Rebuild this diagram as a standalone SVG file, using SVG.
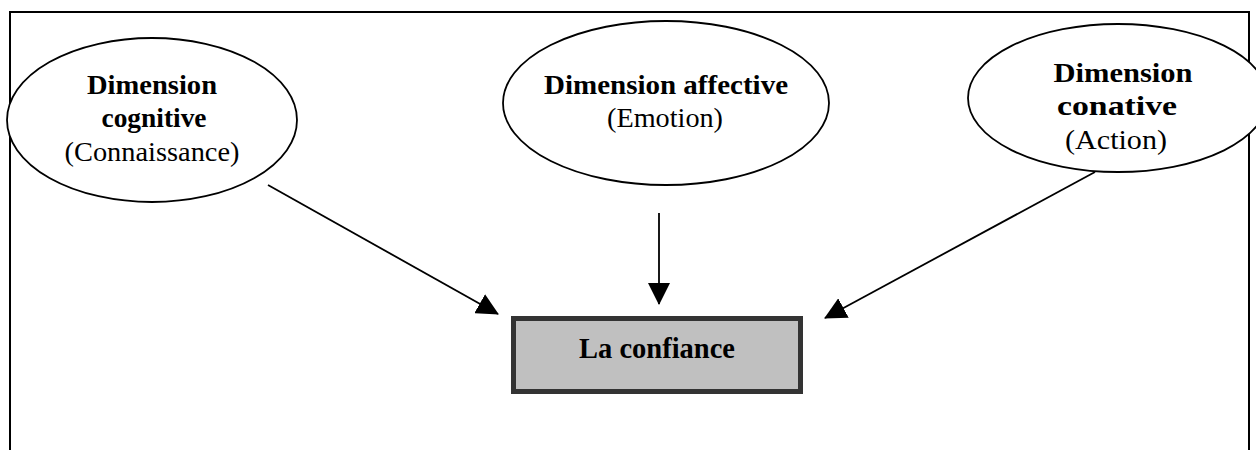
<svg xmlns="http://www.w3.org/2000/svg" width="1256" height="450" viewBox="0 0 1256 450">
  <style>
    .frame { fill: none; stroke: #000; stroke-width: 2; }
    .dim { fill: #fff; stroke: #000; stroke-width: 1.8; }
    .conn { fill: none; stroke: #000; stroke-width: 1.8; }
    .t { font-family: "Liberation Serif", "Times New Roman", serif; font-size: 28px; fill: #000; text-anchor: middle; }
    .b { font-weight: bold; }
    .core { fill: #c0c0c0; stroke: #333; stroke-width: 5; }
    .coretext { font-family: "Liberation Serif", "Times New Roman", serif; font-size: 28.5px; font-weight: bold; fill: #000; text-anchor: middle; }
  </style>
  <defs>
    <marker id="head" markerUnits="userSpaceOnUse" markerWidth="22" markerHeight="22" viewBox="0 0 22 22" refX="21" refY="11" orient="auto">
      <path d="M0,0 L22,11 L0,22 Z" fill="#000"/>
    </marker>
  </defs>

  <rect width="1256" height="450" fill="#fff"/>

  <!-- outer frame, open at the bottom -->
  <path class="frame" d="M10,452 V12 H1249 V452"/>

  <g id="cognitive">
    <ellipse class="dim" cx="152" cy="120" rx="145" ry="82"/>
    <text class="t b" x="152" y="94" textLength="130" lengthAdjust="spacingAndGlyphs">Dimension</text>
    <text class="t b" x="154" y="127" textLength="105" lengthAdjust="spacingAndGlyphs">cognitive</text>
    <text class="t" x="152" y="161" textLength="175" lengthAdjust="spacingAndGlyphs">(Connaissance)</text>
  </g>

  <g id="affective">
    <ellipse class="dim" cx="666" cy="103" rx="163" ry="82"/>
    <text class="t b" x="666" y="94" textLength="244" lengthAdjust="spacingAndGlyphs">Dimension affective</text>
    <text class="t" x="665" y="127" textLength="116" lengthAdjust="spacingAndGlyphs">(Emotion)</text>
  </g>

  <g id="conative">
    <ellipse class="dim" cx="1118" cy="98" rx="150" ry="74"/>
    <text class="t b" x="1123" y="82" textLength="139" lengthAdjust="spacingAndGlyphs">Dimension</text>
    <text class="t b" x="1117" y="115" textLength="120" lengthAdjust="spacingAndGlyphs">conative</text>
    <text class="t" x="1116" y="149" textLength="102" lengthAdjust="spacingAndGlyphs">(Action)</text>
  </g>

  <g id="confiance">
    <rect class="core" x="513.5" y="318.5" width="287" height="73"/>
    <text class="coretext" x="657" y="358">La confiance</text>
  </g>

  <g id="connectors">
    <line class="conn" x1="268" y1="185" x2="498" y2="314" marker-end="url(#head)"/>
    <line class="conn" x1="659" y1="213" x2="659" y2="304" marker-end="url(#head)"/>
    <line class="conn" x1="1095" y1="172" x2="825" y2="318" marker-end="url(#head)"/>
  </g>
</svg>
